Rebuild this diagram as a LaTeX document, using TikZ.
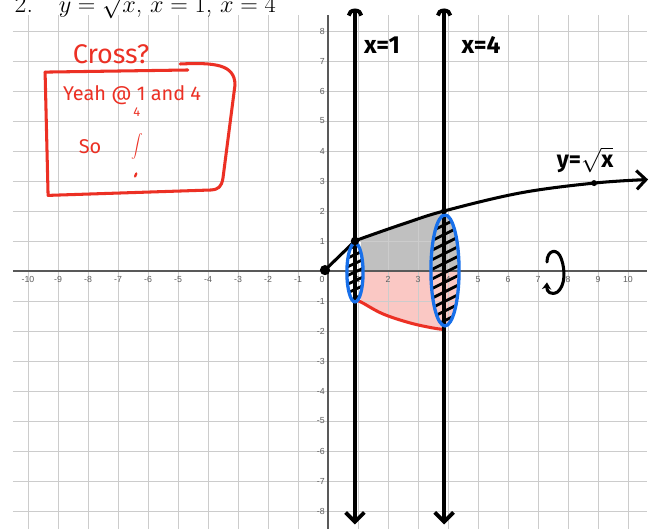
\documentclass[tikz,border=0pt]{standalone}
\usepackage{fontspec}
\setsansfont{Liberation Sans}
\newfontfamily\handfont{Fira Sans}
\usetikzlibrary{arrows.meta, positioning}

\definecolor{inkred}{RGB}{236,48,36}
\definecolor{inkblue}{RGB}{24,112,234}
\definecolor{shadegray}{RGB}{192,192,192}
\definecolor{shadepink}{RGB}{250,200,196}

\begin{document}
\begin{tikzpicture}[x=0.9cm, y=0.9cm,
  gridline/.style={gray!40, line width=0.7pt},
  axisline/.style={gray!70!black, line width=1pt},
  ticklabel/.style={font=\sffamily\fontsize{7.5}{8}\selectfont, text=gray!75!black, inner sep=0pt},
  inkline/.style={line width=2.6pt, line cap=round, line join=round},
  marker/.style={line width=3.3pt},
  hatch/.style={line width=2.4pt, line cap=round},
  hand/.style={font=\handfont\fontsize{#1}{#1}\selectfont, inner sep=0pt},
  hand/.default=20,
  handbold/.style={font=\handfont\bfseries\fontsize{#1}{#1}\selectfont, inner sep=0pt},
  handbold/.default=21]

  \useasboundingbox (-10.933,-8.6) rectangle (11.067,9.033);
  \fill[white] (-10.933,-8.6) rectangle (11.067,9.033);

  % Shaded region, above and below the axis
  \fill[shadegray] (1.1,0) -- (1.1,1.07)
    -- plot[smooth, tension=0.6] coordinates {(1.1,1.07) (1.3,1.15) (2.6,1.6) (3.87,2.0)}
    -- (3.87,0) -- cycle;
  \fill[shadepink] (1.1,0) -- (1.1,-1.06)
    -- plot[smooth, tension=0.6] coordinates {(1.13,-1.05) (1.83,-1.43) (2.73,-1.73) (3.5,-1.9) (3.87,-1.95)}
    -- (3.87,0) -- cycle;
  \begin{scope}
    \clip (3.9,0.02) ellipse (0.47 and 1.85);
    \fill[shadegray] (3.2,0) rectangle (4.5,2.1);
    \fill[shadepink] (3.2,0) rectangle (4.5,-2.1);
  \end{scope}

  % Grid
  \foreach \i in {-10,...,10}
    \draw[gridline] (\i,-8.6) -- (\i,8.53);
  \foreach \j in {-8,...,8}
    \draw[gridline] (-10.5,\j) -- (10.63,\j);

  % Axes
  \draw[axisline] (-10.5,0) -- (10.63,0);
  \draw[axisline] (0,-8.6) -- (0,8.53);
  \foreach \i in {-10,...,-1,1,2,...,10}
    \node[ticklabel] (xt\i) at (\i,-0.27) {\i};
  \foreach \j in {-8,...,-1,1,2,...,8}
    \node[ticklabel, anchor=east] (yt\j) at (-0.1,\j) {\j};
  \node[ticklabel] (xt0) at (-0.2,-0.27) {0};

  % Title
  \node[anchor=base west, inner sep=0pt, font=\fontsize{22}{23}\selectfont] (title)
    at (-10.45,8.6) {2.\quad $y=\sqrt{x}$, $x=1$, $x=4$};

  % Lower edge of the solid
  \draw[inkline, inkred] plot[smooth, tension=0.6] coordinates
    {(0.95,-0.97) (1.13,-1.05) (1.83,-1.43) (2.73,-1.73) (3.5,-1.9) (3.87,-1.95)};

  % Vertical lines x=1 and x=4
  \coordinate (aTop) at (0.9,8.75);
  \coordinate (aBot) at (0.9,-8.45);
  \coordinate (bTop) at (3.87,8.75);
  \coordinate (bBot) at (3.87,-8.45);
  \draw[marker, {Arc Barb[length=6pt, width=14pt]}-{Straight Barb[length=8pt, width=16pt]}] (aTop) -- (aBot);
  \draw[marker, {Arc Barb[length=6pt, width=14pt]}-{Straight Barb[length=8pt, width=16pt]}] (bTop) -- (bBot);

  % Curve y = sqrt x
  \coordinate (origin) at (-0.1,0.03);
  \coordinate (ptA) at (0.9,1.0);
  \coordinate (ptB) at (3.87,2.0);
  \coordinate (ptC) at (8.87,2.93);
  \draw[inkline, -{Straight Barb[length=8pt, width=16pt]}] (origin) -- (ptA)
    -- plot[smooth, tension=0.6] coordinates {(ptA) (1.3,1.15) (2.6,1.6) (ptB) (6.4,2.6) (ptC) (10.67,3.05)};

  % Hatching of the two slices
  \begin{scope}
    \clip (0.9,-0.05) ellipse (0.27 and 0.95);
    \foreach \k in {0,...,6}
      \draw[hatch] (0.5,0.8-0.29*\k-0.15) -- (1.3,0.8-0.29*\k+0.22);
  \end{scope}
  \begin{scope}
    \clip (3.9,0.02) ellipse (0.42 and 1.8);
    \foreach \k in {0,...,10}
      \draw[hatch] (3.3,1.55-0.32*\k-0.3) -- (4.5,1.55-0.32*\k+0.3);
  \end{scope}

  % Slices
  \draw[inkblue, line width=2.8pt] (0.9,-0.05) ellipse (0.27 and 0.98);
  \draw[inkblue, line width=2.8pt] (3.9,0.02) ellipse (0.47 and 1.85);

  % Points on the curve
  \fill (origin) circle (0.17);
  \fill (ptA) circle (0.14);
  \fill (ptB) circle (0.1);
  \fill (ptC) circle (0.1);

  % Rotation about the x-axis
  \draw[inkline, -{Stealth[length=6pt, width=8pt]}] (7.3,0.3)
    .. controls (7.3,0.7) and (7.65,0.8) .. (7.78,0.4)
    .. controls (7.92,0.0) and (7.9,-0.5) .. (7.65,-0.7)
    .. controls (7.45,-0.82) and (7.28,-0.7) .. (7.3,-0.38);

  % Labels
  \node[handbold] (labA) at (1.8,7.53) {x=1};
  \node[handbold] (labB) at (5.1,7.53) {x=4};
  \node[handbold=20] (labC) at (8.57,3.7) {y=$\sqrt{\mbox{\handfont\bfseries x}}$};

  % Notes
  \node[hand=23, text=inkred] (cross) at (-7.23,7.23) {Cross?};
  \node[hand=17, text=inkred] (yeah) at (-6.53,5.87) {Yeah @ 1 and 4};
  \node[hand=17, text=inkred] (so) at (-7.93,4.13) {So};
  \node[hand=11, text=inkred] (upper) at (-6.37,5.3) {4};
  \node[inner sep=0pt, text=inkred, font=\fontsize{12}{13}\selectfont] (intg) at (-6.37,4.15) {$\displaystyle\int$};
  \draw[inkred, line width=2pt, line cap=round] (-6.43,3.15) -- (-6.39,3.25);
  \draw[inkline, inkred] (-9.43,6.63) -- (-4.67,6.7);
  \draw[inkline, inkred] (-4.93,6.9) .. controls (-3.8,6.95) and (-3.1,6.9) .. (-3.1,6.2)
    -- (-3.5,3.1) .. controls (-3.55,2.8) and (-3.65,2.72) .. (-3.9,2.7)
    -- (-9.33,2.52) -- (-9.43,6.63);
\end{tikzpicture}
\end{document}
